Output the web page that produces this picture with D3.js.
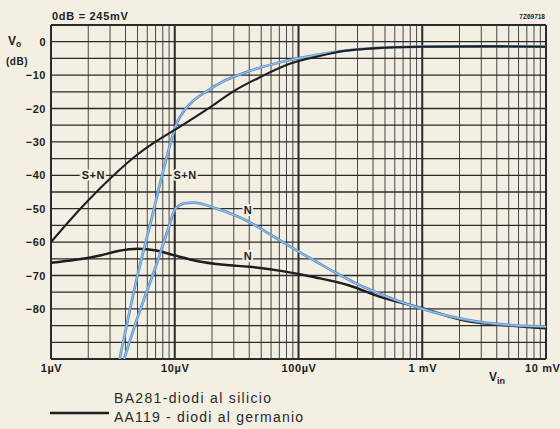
<!DOCTYPE html>
<html>
<head>
<meta charset="utf-8">
<script src="https://cdn.jsdelivr.net/npm/d3@7"></script>
<style>
  body { margin: 0; background: #f3efe3; }
  svg { display: block; font-family: "Liberation Sans", Arial, sans-serif; }
</style>
</head>
<body>
<div id="target"></div>
<script>
// input voltage in µV, output level in dB
const snGeVin = [1, 1.78, 3.1, 4.8, 7.1, 10, 19, 30, 49, 85, 140, 240, 400, 1000, 3200, 10000];
const snGeDb = [-60, -49.5, -40.5, -34.3, -29.8, -26.4, -19.8, -14.8, -10.6, -6.6, -4.5, -2.7, -2, -1.5, -1.4, -1.5];

const nGeVin = [1, 1.58, 2.5, 3.55, 5, 7.1, 10, 15.8, 25, 40, 74, 138, 257, 450, 1000, 2240, 5000, 10000];
const nGeDb = [-66.2, -65.3, -64, -62.6, -62, -62.5, -64, -65.8, -66.8, -67.4, -68.7, -70.6, -73, -76.3, -79.8, -83.6, -85, -85.8];

const snSiVin = [3.5, 5.0, 6.3, 7.9, 9.3, 10.5, 12, 14, 17.8, 25, 40, 74, 138, 250, 500, 1000, 3200, 10000];
const snSiDb = [-97, -70, -55, -40, -30, -24, -20.5, -17.8, -15, -11.8, -8.8, -6, -4, -2.6, -1.8, -1.5, -1.4, -1.5];

const nSiVin = [3.75, 5.0, 7.1, 8.8, 10.2, 12.3, 14.1, 21.9, 31.6, 40, 55, 74, 102, 138, 200, 282, 447, 1000, 2240, 5000, 10000];
const nSiDb = [-97, -82.6, -66.8, -56.4, -49.8, -48.3, -48.2, -50, -52.2, -54, -57, -59.9, -63, -65.8, -69.2, -72.1, -75.4, -80, -83.2, -84.8, -85.3];

const xTickValues = [1, 10, 100, 1000, 10000];
const xTickLabels = ["1\u00b5V", "10\u00b5V", "100\u00b5V", "1 mV", "10 mV"];
const yTickValues = [0, -10, -20, -30, -40, -50, -60, -70, -80];

function drawChart() {
  const width = 560,
    height = 429,
    pLeft = 51,
    pRight = 546,
    pTop = 25,
    pBottom = 359;

  const bg = "#f3efe3",
    ink = "#1e1e1e",
    blue = "#5f95cb",
    blueLight = "#a8cbec";

  const x = d3.scaleLog()
    .domain([1, 10000])
    .range([pLeft, pRight]);

  const y = d3.scaleLinear()
    .domain([-95, 5])
    .range([pBottom, pTop]);

  const svg = d3.select("#target")
    .append("svg")
    .attr("width", width)
    .attr("height", height);

  svg.append("rect")
    .attr("width", width)
    .attr("height", height)
    .attr("fill", bg);

  // grid
  const grid = svg.append("g").attr("stroke", "#2a2a2a");

  const minor = [];
  for (let d = 1; d < 10000; d *= 10) {
    for (let k = 2; k <= 9; k++) minor.push(d * k);
  }

  grid.selectAll(".vminor")
    .data(minor)
    .enter()
    .append("line")
    .attr("x1", (d) => x(d))
    .attr("x2", (d) => x(d))
    .attr("y1", pTop)
    .attr("y2", pBottom)
    .attr("stroke-width", 1)
    .attr("stroke-opacity", 0.85);

  grid.selectAll(".vmajor")
    .data(xTickValues)
    .enter()
    .append("line")
    .attr("x1", (d) => x(d))
    .attr("x2", (d) => x(d))
    .attr("y1", pTop)
    .attr("y2", pBottom)
    .attr("stroke-width", 2);

  grid.selectAll(".h")
    .data(d3.range(-95, 6, 5))
    .enter()
    .append("line")
    .attr("x1", pLeft)
    .attr("x2", pRight)
    .attr("y1", (d) => y(d))
    .attr("y2", (d) => y(d))
    .attr("stroke-width", (d) => (d === -95 || d === 5) ? 2 : 1.3);

  // axes
  const xAxis = svg.append("g")
    .attr("transform", `translate(0,${pBottom})`)
    .call(d3.axisBottom(x)
      .tickValues(xTickValues)
      .tickFormat((d, i) => xTickLabels[i])
      .tickSize(0)
      .tickPadding(5));
  xAxis.select(".domain").remove();
  xAxis.selectAll("text")
    .attr("font-size", 11)
    .attr("font-weight", "bold")
    .attr("letter-spacing", 0.6)
    .attr("fill", ink)
    .attr("text-anchor", (d) => d === 10000 ? "end" : "middle")
    .attr("dx", (d) => d === 10000 ? 14 : 0);

  const yAxis = svg.append("g")
    .attr("transform", `translate(${pLeft},0)`)
    .call(d3.axisLeft(y)
      .tickValues(yTickValues)
      .tickFormat((d) => d === 0 ? "0" : "\u2212" + Math.abs(d))
      .tickSize(0)
      .tickPadding(5));
  yAxis.select(".domain").remove();
  yAxis.selectAll("text")
    .attr("font-size", 11)
    .attr("font-weight", "bold")
    .attr("letter-spacing", 0.5)
    .attr("fill", ink);

  // curves
  const line = d3.line()
    .x((d) => x(d[0]))
    .y((d) => y(d[1]))
    .curve(d3.curveMonotoneX);

  svg.append("clipPath")
    .attr("id", "plot")
    .append("rect")
    .attr("x", pLeft)
    .attr("y", pTop)
    .attr("width", pRight - pLeft)
    .attr("height", pBottom - pTop);

  const curves = [
    { vin: nGeVin, db: nGeDb, color: ink, w: 2.4 },
    { vin: nSiVin, db: nSiDb, color: blue, w: 2.8, core: true },
    { vin: snSiVin, db: snSiDb, color: blue, w: 2.8, core: true },
    { vin: snGeVin, db: snGeDb, color: ink, w: 2.1 }
  ];

  const plot = svg.append("g")
    .attr("clip-path", "url(#plot)");

  curves.forEach((c) => {
    const d = line(c.vin.map((v, i) => [v, c.db[i]]));
    plot.append("path")
      .attr("d", d)
      .attr("fill", "none")
      .attr("stroke", c.color)
      .attr("stroke-width", c.w)
      .attr("stroke-linejoin", "round");
    if (c.core) {
      // scanned blue ink has a pale centre
      plot.append("path")
        .attr("d", d)
        .attr("fill", "none")
        .attr("stroke", blueLight)
        .attr("stroke-width", 0.9);
    }
  });

  // curve labels
  const labels = [
    { t: "S+N", v: 2.2, db: -40 },
    { t: "S+N", v: 12.1, db: -40 },
    { t: "N", v: 39, db: -50.5 },
    { t: "N", v: 39, db: -64.3 }
  ];
  svg.append("g")
    .selectAll("text")
    .data(labels)
    .enter()
    .append("text")
    .attr("x", (d) => x(d.v))
    .attr("y", (d) => y(d.db))
    .attr("dy", "0.35em")
    .attr("text-anchor", "middle")
    .attr("font-size", 11)
    .attr("font-weight", "bold")
    .attr("letter-spacing", 0.5)
    .attr("fill", ink)
    .attr("stroke", bg)
    .attr("stroke-width", 4)
    .attr("paint-order", "stroke")
    .text((d) => d.t);

  // titles
  svg.append("text")
    .attr("x", 52)
    .attr("y", 20)
    .attr("font-size", 11)
    .attr("font-weight", "bold")
    .attr("letter-spacing", 0.7)
    .attr("fill", ink)
    .text("0dB = 245mV");

  svg.append("text")
    .attr("x", 545)
    .attr("y", 19)
    .attr("text-anchor", "end")
    .attr("font-size", 6.5)
    .attr("font-weight", "bold")
    .attr("fill", ink)
    .text("7Z69718");

  const vo = svg.append("text")
    .attr("x", 8)
    .attr("y", 45)
    .attr("font-size", 12)
    .attr("font-weight", "bold")
    .attr("fill", ink);
  vo.append("tspan").text("V");
  vo.append("tspan").attr("font-size", 8.5).attr("dy", 2).text("o");

  svg.append("text")
    .attr("x", 6)
    .attr("y", 65)
    .attr("font-size", 10)
    .attr("font-weight", "bold")
    .attr("letter-spacing", 0.5)
    .attr("fill", ink)
    .text("(dB)");

  const vin = svg.append("text")
    .attr("x", 489)
    .attr("y", 381)
    .attr("font-size", 12)
    .attr("font-weight", "bold")
    .attr("fill", ink);
  vin.append("tspan").text("V");
  vin.append("tspan").attr("font-size", 9).attr("dy", 3).text("in");

  // legend
  svg.append("text")
    .attr("x", 114)
    .attr("y", 403)
    .attr("font-size", 14)
    .attr("textLength", 157)
    .attr("lengthAdjust", "spacing")
    .attr("fill", "#2a2a2a")
    .text("BA281-diodi al silicio");

  svg.append("line")
    .attr("x1", 50)
    .attr("x2", 109)
    .attr("y1", 413)
    .attr("y2", 413)
    .attr("stroke", ink)
    .attr("stroke-width", 2.5);

  svg.append("text")
    .attr("x", 114)
    .attr("y", 422)
    .attr("font-size", 14)
    .attr("textLength", 189)
    .attr("lengthAdjust", "spacing")
    .attr("fill", "#2a2a2a")
    .text("AA119 - diodi al germanio");
}

drawChart();
</script>
</body>
</html>
